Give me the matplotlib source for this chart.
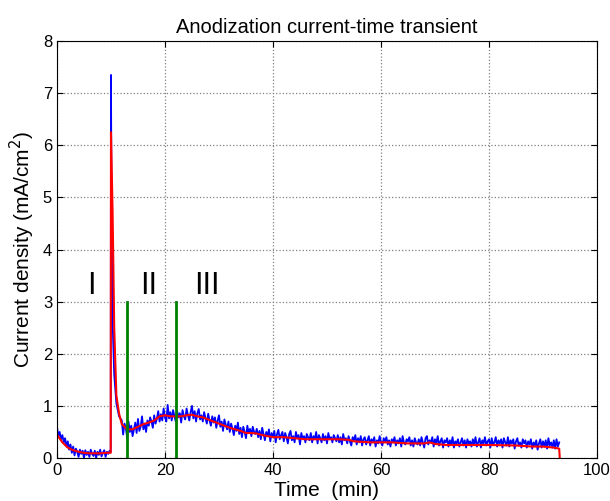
import numpy as np
import matplotlib
matplotlib.use('Agg')
import matplotlib.pyplot as plt

# medicao bruta (azul), amostrada a cada 0.25 min
tempo_inicio = list(np.arange(0, 10, 0.25))
corrente_inicio = [0.60, 0.42, 0.50, 0.36, 0.44, 0.30, 0.38, 0.22, 0.32, 0.16,
                   0.26, 0.10, 0.22, 0.05, 0.18, 0.12, 0.02, 0.16, 0.08, 0.14,
                   0.00, 0.15, 0.06, 0.12, 0.02, 0.16, 0.08, 0.04, 0.14, 0.00,
                   0.12, 0.06, 0.16, 0.03, 0.10, 0.15, 0.02, 0.12, 0.08, 0.14]
tempo_pico = [9.95, 10.0, 10.1, 10.3, 10.6, 11.0, 11.5]
corrente_pico = [0.12, 7.35, 4.7, 2.6, 1.6, 1.05, 0.8]
tempo_resto = list(np.arange(12, 93.01, 0.25))
corrente_resto = [
    0.72, 0.45, 0.66, 0.58, 0.38, 0.70, 0.50, 0.62, 0.42, 0.55, 0.68, 0.48, 0.75, 0.52, 0.60, 0.80, 0.55, 0.66, 0.50, 0.72,
    0.62, 0.78, 0.70, 0.58, 0.82, 0.66, 0.75, 0.90, 0.70, 0.84, 0.72, 0.95, 0.78, 0.70, 1.02, 0.76, 0.88, 0.72, 0.92, 0.80,
    0.70, 0.90, 0.78, 0.86, 0.68, 0.92, 0.80, 0.74, 0.95, 0.82, 0.72, 0.88, 1.00, 0.76, 0.90, 0.70, 0.86, 0.94, 0.74, 0.82,
    0.70, 0.88, 0.76, 0.66, 0.85, 0.72, 0.62, 0.80, 0.68, 0.78, 0.58, 0.72, 0.82, 0.60, 0.70, 0.52, 0.74, 0.64, 0.55, 0.70,
    0.50, 0.66, 0.56, 0.44, 0.62, 0.52, 0.68, 0.46, 0.58, 0.40, 0.60, 0.50, 0.38, 0.62, 0.48, 0.56, 0.42, 0.60, 0.50, 0.46,
    0.56, 0.40, 0.52, 0.36, 0.58, 0.46, 0.34, 0.50, 0.42, 0.55, 0.32, 0.48, 0.40, 0.52, 0.30, 0.46, 0.54, 0.36, 0.44, 0.50,
    0.32, 0.48, 0.40, 0.28, 0.46, 0.52, 0.34, 0.42, 0.30, 0.50, 0.38, 0.44, 0.26, 0.48, 0.36, 0.42, 0.30, 0.46, 0.40, 0.34,
    0.48, 0.30, 0.42, 0.36, 0.50, 0.28, 0.44, 0.38, 0.30, 0.46, 0.34, 0.42, 0.28, 0.48, 0.36, 0.40, 0.30, 0.44, 0.38, 0.32,
    0.44, 0.30, 0.40, 0.26, 0.46, 0.34, 0.38, 0.28, 0.42, 0.32, 0.24, 0.40, 0.34, 0.44, 0.26, 0.38, 0.30, 0.42, 0.24, 0.36,
    0.40, 0.26, 0.34, 0.42, 0.24, 0.36, 0.30, 0.40, 0.22, 0.34, 0.28, 0.42, 0.30, 0.24, 0.38, 0.32, 0.40, 0.26, 0.34, 0.22,
    0.36, 0.30, 0.40, 0.24, 0.34, 0.28, 0.38, 0.22, 0.42, 0.30, 0.26, 0.36, 0.32, 0.40, 0.24, 0.34, 0.22, 0.38, 0.30, 0.26,
    0.36, 0.24, 0.40, 0.30, 0.20, 0.38, 0.42, 0.26, 0.34, 0.30, 0.40, 0.22, 0.36, 0.28, 0.42, 0.24, 0.32, 0.38, 0.20, 0.34,
    0.30, 0.38, 0.22, 0.34, 0.26, 0.40, 0.20, 0.32, 0.28, 0.36, 0.22, 0.30, 0.38, 0.24, 0.34, 0.20, 0.36, 0.28, 0.32, 0.22,
    0.36, 0.26, 0.40, 0.22, 0.30, 0.38, 0.20, 0.34, 0.28, 0.40, 0.24, 0.32, 0.36, 0.20, 0.38, 0.26, 0.30, 0.40, 0.22, 0.34,
    0.28, 0.36, 0.20, 0.38, 0.30, 0.24, 0.40, 0.22, 0.34, 0.28, 0.36, 0.18, 0.32, 0.38, 0.24, 0.30, 0.20, 0.36, 0.28, 0.34,
    0.20, 0.32, 0.26, 0.36, 0.18, 0.30, 0.24, 0.34, 0.16, 0.28, 0.36, 0.20, 0.32, 0.22, 0.34, 0.18, 0.38, 0.24, 0.30, 0.20,
    0.34, 0.18, 0.36, 0.22, 0.30]

# curva suavizada (vermelha)
tempo_suave = [0, 1, 2, 3, 4, 5, 6, 7, 8, 9, 9.95, 10.0, 10.3, 10.6, 11, 11.5,
               12, 13, 14, 15, 16, 17, 18, 19, 20, 21, 22, 23, 24, 25, 26, 27,
               28, 29, 30, 31, 32, 33, 34, 35, 36, 37, 38, 39, 40, 42, 44, 46,
               48, 50, 52, 54, 55, 58, 60, 62, 65, 68, 69, 70, 72, 75, 80, 85,
               88, 90, 92, 93, 93.1]
corrente_suave = [0.45, 0.30, 0.20, 0.15, 0.12, 0.10, 0.09, 0.09, 0.09, 0.10,
                  0.10, 6.25, 4.7, 2.5, 1.2, 0.85, 0.65, 0.55, 0.55, 0.60,
                  0.65, 0.68, 0.72, 0.80, 0.82, 0.80, 0.80, 0.80, 0.82, 0.83,
                  0.80, 0.78, 0.74, 0.70, 0.66, 0.62, 0.58, 0.55, 0.52, 0.48,
                  0.48, 0.47, 0.44, 0.42, 0.40, 0.40, 0.38, 0.36, 0.36, 0.36,
                  0.36, 0.35, 0.32, 0.30, 0.30, 0.30, 0.28, 0.28, 0.30, 0.27,
                  0.25, 0.25, 0.25, 0.24, 0.22, 0.22, 0.20, 0.18, 0.0]

limites_regioes = [13, 22]
rotulos_regioes = ['I', 'II', 'III']
posicoes_rotulos = [6.3, 17.0, 27.8]

tempo_azul = tempo_inicio + tempo_pico + tempo_resto
corrente_azul = corrente_inicio + corrente_pico + corrente_resto

plt.rcParams['font.family'] = ['Liberation Sans', 'DejaVu Sans']

fig = plt.figure(figsize=(6.1, 5.01), dpi=100)
ax = fig.add_axes([0.0934, 0.0858, 0.8853, 0.8322])

ax.plot(tempo_azul, corrente_azul, color='blue', linewidth=1.3)
ax.plot(tempo_suave, corrente_suave, color='red', linewidth=1.5)
for x in limites_regioes:
    ax.plot([x, x], [0, 3], color='green', linewidth=2)
for rotulo, x in zip(rotulos_regioes, posicoes_rotulos):
    ax.text(x, 3.02, rotulo, fontsize=22, ha='center', va='bottom')

ax.set_xlim(0, 100)
ax.set_ylim(0, 8)
ax.set_xticks([0, 20, 40, 60, 80, 100])
ax.set_yticks(range(0, 9))
ax.tick_params(direction='in', top=True, right=True, labelsize=12, length=4)
ax.grid(True, linestyle=':', color='gray', linewidth=0.9)
ax.set_axisbelow(True)

ax.set_title('Anodization current-time transient', fontsize=14.5)
ax.set_xlabel('Time  (min)', fontsize=15, labelpad=2)
ax.set_ylabel('Current density (mA/cm$^2$)', fontsize=15)

fig.savefig('out.png', dpi=100)
